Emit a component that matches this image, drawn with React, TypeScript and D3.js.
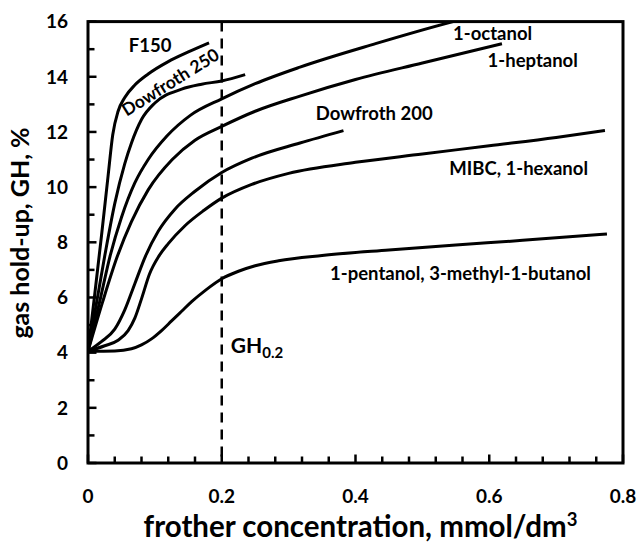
import React, { useEffect, useRef } from "react";
import * as d3 from "d3";

type Pt = [number, number];

// curves: [frother concentration, gas hold-up]
const f150: Pt[] = [
  [0, 4.05], [0.01, 6.1], [0.02, 8.2], [0.03, 10.4], [0.037, 11.9], [0.045, 12.75], [0.055, 13.25],
  [0.07, 13.7], [0.09, 14.1], [0.12, 14.55], [0.15, 14.9], [0.181, 15.23],
];
const dowfroth250: Pt[] = [
  [0, 4.05], [0.012, 5.7], [0.025, 7.5], [0.04, 9.4], [0.055, 10.85], [0.065, 11.6], [0.08, 12.45],
  [0.1, 13.05], [0.14, 13.55], [0.17, 13.73], [0.2, 13.85], [0.235, 14.08],
];
const octanol: Pt[] = [
  [0, 4.05], [0.017, 5.8], [0.033, 7.5], [0.05, 8.9], [0.07, 10.15], [0.09, 11.0], [0.118, 11.85],
  [0.153, 12.6], [0.2, 13.2], [0.25, 13.75], [0.317, 14.35], [0.43, 15.2], [0.546, 16.0], [0.57, 16.15],
];
const heptanol: Pt[] = [
  [0, 4.05], [0.022, 5.85], [0.044, 7.5], [0.065, 8.75], [0.09, 9.9], [0.126, 11.0], [0.16, 11.7],
  [0.2, 12.2], [0.25, 12.75], [0.317, 13.3], [0.4, 13.9], [0.5, 14.5], [0.619, 15.2],
];
const dowfroth200: Pt[] = [
  [0, 4.05], [0.02, 4.4], [0.04, 4.85], [0.055, 5.55], [0.07, 6.5], [0.086, 7.5], [0.105, 8.4],
  [0.13, 9.2], [0.16, 9.85], [0.2, 10.53], [0.245, 11.05], [0.317, 11.6], [0.382, 12.05],
];
const mibc: Pt[] = [
  [0, 4.05], [0.025, 4.25], [0.045, 4.45], [0.06, 4.8], [0.07, 5.25], [0.08, 5.95], [0.092, 6.85],
  [0.106, 7.5], [0.12, 7.95], [0.145, 8.6], [0.173, 9.15], [0.2, 9.6], [0.245, 10.1], [0.3, 10.5],
  [0.4, 10.9], [0.5, 11.2], [0.6, 11.5], [0.7, 11.8], [0.773, 12.05],
];
const pentanol: Pt[] = [
  [0, 4.05], [0.04, 4.06], [0.065, 4.14], [0.08, 4.28], [0.095, 4.5], [0.11, 4.8], [0.125, 5.15],
  [0.14, 5.5], [0.155, 5.85], [0.175, 6.25], [0.2, 6.68], [0.225, 6.95], [0.25, 7.15], [0.285, 7.33],
  [0.35, 7.52], [0.45, 7.72], [0.55, 7.9], [0.65, 8.07], [0.776, 8.3],
];

const series = [f150, dowfroth250, octanol, heptanol, dowfroth200, mibc, pentanol];

const xTickLabels = [0, 0.2, 0.4, 0.6, 0.8];
const yTickLabels = [0, 2, 4, 6, 8, 10, 12, 14, 16];
const xMinorTicks = d3.range(0, 21).map((i) => i * 0.04);
const yMinorTicks = d3.range(0, 17);
const markerX = 0.2;

// straight labels: text, x centre, baseline (data units)
const labels: { text: string; x: number; y: number }[] = [
  { text: "F150", x: 0.093, y: 14.88 },
  { text: "1-octanol", x: 0.605, y: 15.35 },
  { text: "1-heptanol", x: 0.665, y: 14.37 },
  { text: "Dowfroth 200", x: 0.428, y: 12.44 },
  { text: "MIBC, 1-hexanol", x: 0.644, y: 10.45 },
  { text: "1-pentanol, 3-methyl-1-butanol", x: 0.557, y: 6.63 },
];

function App(): JSX.Element {
  const ref = useRef<SVGSVGElement>(null);

  const width = 639;
  const height = 544;
  const margin = { top: 21.6, right: 16, bottom: 81, left: 88 };
  const x = d3.scaleLinear().domain([0, 0.8]).range([margin.left, width - margin.right]);
  const y = d3.scaleLinear().domain([0, 16]).range([height - margin.bottom, margin.top]);
  const x0 = x(0), y0 = y(0);

  useEffect(() => {
    if (!ref.current) return;
    const font = "Lato, 'Open Sans', sans-serif";
    const x1 = x(0.8), y1 = y(16);

    const svg = d3.select(ref.current).select<SVGGElement>("g.plot");
    svg.selectAll("*").remove();

    svg.append("clipPath").attr("id", "plot-clip")
      .append("rect").attr("x", x0).attr("y", y1).attr("width", x1 - x0).attr("height", y0 - y1);

    // tick labels
    svg.append("g").selectAll("text").data(xTickLabels).enter().append("text")
      .attr("x", (d) => x(d)).attr("y", y0 + 40)
      .attr("text-anchor", "middle")
      .style("font-family", font).style("font-weight", "bold").style("font-size", "19px")
      .text((d) => String(d));
    svg.append("g").selectAll("text").data(yTickLabels).enter().append("text")
      .attr("x", x0 - 20).attr("y", (d) => y(d)).attr("dy", "0.36em")
      .attr("text-anchor", "end")
      .style("font-family", font).style("font-weight", "bold").style("font-size", "19px")
      .text((d) => String(d));

    // dashed marker
    svg.append("line")
      .attr("x1", x(markerX)).attr("x2", x(markerX)).attr("y1", y1).attr("y2", y0)
      .attr("stroke", "black").attr("stroke-width", 2.5).attr("stroke-dasharray", "10,7");

    // curves
    const line = d3.line<Pt>()
      .x((d) => x(d[0]))
      .y((d) => y(d[1]))
      .curve(d3.curveMonotoneX);
    svg.append("g").attr("clip-path", "url(#plot-clip)")
      .selectAll("path").data(series).enter().append("path")
      .attr("d", (d) => line(d))
      .attr("fill", "none").attr("stroke", "black").attr("stroke-width", 3);

    // frame
    svg.append("rect")
      .attr("x", x0).attr("y", y1).attr("width", x1 - x0).attr("height", y0 - y1)
      .attr("fill", "none").attr("stroke", "black").attr("stroke-width", 3);

    // curve labels
    svg.append("g").selectAll("text").data(labels).enter().append("text")
      .attr("x", (d) => x(d.x)).attr("y", (d) => y(d.y))
      .attr("text-anchor", "middle")
      .style("font-family", font).style("font-weight", "bold").style("font-size", "18.5px")
      .text((d) => d.text);

    svg.append("text")
      .attr("transform", `translate(${x(0.058)},${y(12.55)}) rotate(-32)`)
      .style("font-family", font).style("font-weight", "bold").style("font-size", "17.5px")
      .text("Dowfroth 250");

    const gh = svg.append("text")
      .attr("x", x(markerX) + 9).attr("y", y(4.0))
      .style("font-family", font).style("font-weight", "bold").style("font-size", "21px");
    gh.append("tspan").text("GH");
    gh.append("tspan").attr("dy", 5).style("font-size", "15px").text("0.2");

    // axis titles
    const xt = svg.append("text")
      .attr("x", (x0 + x1) / 2 + 5).attr("y", 537)
      .attr("text-anchor", "middle")
      .style("font-family", font).style("font-weight", "bold").style("font-size", "29.5px");
    xt.append("tspan").text("frother concentration, mmol/dm");
    xt.append("tspan").attr("dy", -11).style("font-size", "18.5px").text("3");

    svg.append("text")
      .attr("transform", `translate(29,233) rotate(-90)`)
      .attr("text-anchor", "middle")
      .style("font-family", font).style("font-weight", "bold").style("font-size", "25px")
      .text("gas hold-up, GH, %");
  }, []);

  const isMajorX = (t: number) => xTickLabels.some((v) => Math.abs(v - t) < 1e-6);

  return (
    <div style={{ position: "absolute", left: 0, top: 0, background: "white" }}>
      <svg ref={ref} width={width} height={height} style={{ display: "block" }}>
        <g className="plot"></g>
        {/* inward ticks */}
        <g className="ticks" stroke="#000" strokeWidth={2.5}>
          {xMinorTicks.map((t, i) => (
            <line key={`x${i}`} x1={x(t)} x2={x(t)} y1={y0} y2={y0 - (isMajorX(t) ? 8.5 : 6.5)} />
          ))}
          {yMinorTicks.map((t) => (
            <line key={`y${t}`} x1={x0} x2={x0 + (t % 2 === 0 ? 8.5 : 6.5)} y1={y(t)} y2={y(t)} />
          ))}
        </g>
      </svg>
    </div>
  );
}

export default App;
